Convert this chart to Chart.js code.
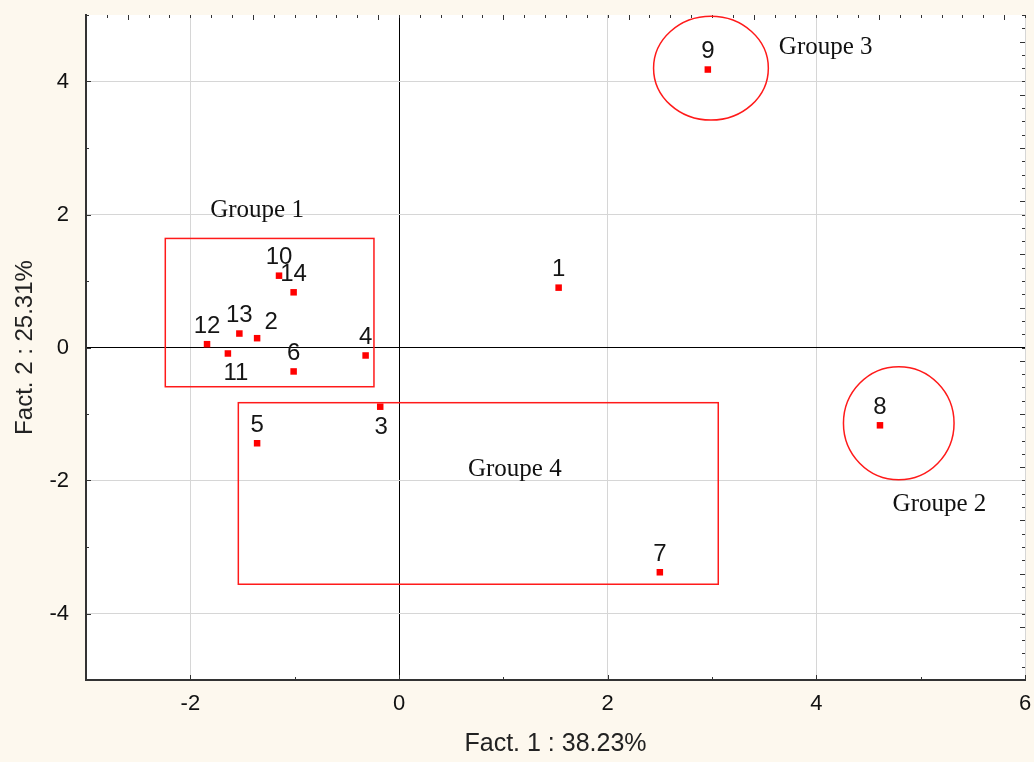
<!DOCTYPE html>
<html>
<head>
<meta charset="utf-8">
<script src="https://cdn.jsdelivr.net/npm/chart.js@4"></script>
<style>
  html, body { margin: 0; padding: 0; background: #fdf8ee; }
  #wrap { width: 1034px; height: 762px; }
</style>
</head>
<body>
<div id="wrap"><canvas id="chart" width="1034" height="762"></canvas></div>
<script>
// Observations (factor scores)
const obsLabels = ["1", "2", "3", "4", "5", "6", "7", "8", "9", "10", "11", "12", "13", "14"];
const fact1 = [1.53, -1.36, -0.18, -0.32, -1.36, -1.01, 2.50, 4.61, 2.96, -1.15, -1.64, -1.84, -1.53, -1.01];
const fact2 = [0.90, 0.14, -0.89, -0.12, -1.44, -0.36, -3.38, -1.17, 4.18, 1.08, -0.09, 0.05, 0.21, 0.83];

// Axis ticks
const xTicks = [-2, 0, 2, 4, 6];
const yTicks = [-4, -2, 0, 2, 4];

// Groups (in factor units)
const groupNames = ["Groupe 1", "Groupe 2", "Groupe 3", "Groupe 4"];
const groupNameX = [-1.36, 5.18, 4.09, 1.11];
const groupNameY = [2.06, -2.36, 4.51, -1.83];
// rectangles: [x1, x2], [y1, y2]
const rectGroups = ["Groupe 1", "Groupe 4"];
const rectX = [[-2.24, -0.24], [-1.54, 3.06]];
const rectY = [[1.64, -0.59], [-0.83, -3.56]];
// ellipses: center and radii
const ellGroups = ["Groupe 3", "Groupe 2"];
const ellCX = [2.99, 4.79];
const ellCY = [4.20, -1.14];
const ellRX = [0.55, 0.53];
const ellRY = [0.78, 0.85];

// where each point label sits relative to its marker
const labelPlace = { "2": [14, -16], "3": [1, 21], "11": [8, 20] };

const RED = "#ff1a1a";

const plotBg = {
  id: "plotBg",
  beforeDraw(chart) {
    const { ctx, chartArea: a } = chart;
    ctx.save();
    ctx.fillStyle = "#ffffff";
    ctx.fillRect(a.left, a.top, a.right - a.left, a.bottom - a.top);
    ctx.restore();
  }
};

const extras = {
  id: "extras",
  afterDatasetsDraw(chart) {
    const { ctx, chartArea: a, scales: { x, y } } = chart;
    ctx.save();

    // inward tick marks
    ctx.strokeStyle = "#333";
    ctx.lineWidth = 1;
    ctx.beginPath();
    for (let v = -3; v <= 6; v += 1) {
      const px = Math.round(x.getPixelForValue(v)) + 0.5;
      const len = v % 2 === 0 ? 5 : 3;
      ctx.moveTo(px, a.bottom); ctx.lineTo(px, a.bottom - len);
    }
    for (let v = -5; v <= 5; v += 1) {
      const py = Math.round(y.getPixelForValue(v)) + 0.5;
      const len = v % 2 === 0 ? 5 : 3;
      ctx.moveTo(a.left, py); ctx.lineTo(a.left + len, py);
    }
    for (let i = 0; i <= 45; i++) {
      const px = Math.round(x.getPixelForValue(-3 + i * 0.2)) + 0.5;
      ctx.moveTo(px, a.top); ctx.lineTo(px, a.top + (i % 6 === 2 ? 5 : 3));
    }
    for (let i = 0; i <= 50; i++) {
      const py = Math.round(y.getPixelForValue(-5 + i * 0.2)) + 0.5;
      ctx.moveTo(a.right, py); ctx.lineTo(a.right - (i % 4 === 0 ? 5 : 3), py);
    }
    ctx.stroke();

    // group outlines
    ctx.strokeStyle = RED;
    ctx.lineWidth = 1.5;
    rectGroups.forEach((g, i) => {
      const x1 = x.getPixelForValue(rectX[i][0]), x2 = x.getPixelForValue(rectX[i][1]);
      const y1 = y.getPixelForValue(rectY[i][0]), y2 = y.getPixelForValue(rectY[i][1]);
      ctx.strokeRect(x1, y1, x2 - x1, y2 - y1);
    });
    ellGroups.forEach((g, i) => {
      const cx = x.getPixelForValue(ellCX[i]), cy = y.getPixelForValue(ellCY[i]);
      const rx = x.getPixelForValue(ellCX[i] + ellRX[i]) - cx;
      const ry = cy - y.getPixelForValue(ellCY[i] + ellRY[i]);
      ctx.beginPath();
      ctx.ellipse(cx, cy, rx, ry, 0, 0, Math.PI * 2);
      ctx.stroke();
    });

    // group names
    ctx.fillStyle = "#111";
    ctx.font = "25px 'Liberation Serif', 'Times New Roman', serif";
    ctx.textAlign = "center";
    ctx.textBaseline = "middle";
    groupNames.forEach((g, i) => {
      ctx.fillText(g, x.getPixelForValue(groupNameX[i]), y.getPixelForValue(groupNameY[i]));
    });

    // point labels
    ctx.font = "24px 'Liberation Sans', Arial, sans-serif";
    ctx.fillStyle = "#151515";
    const meta = chart.getDatasetMeta(0);
    meta.data.forEach((pt, i) => {
      const off = labelPlace[obsLabels[i]] || [0, -18];
      ctx.fillText(obsLabels[i], pt.x + off[0], pt.y + off[1]);
    });
    ctx.restore();
  }
};

const gridColor = c => (c.tick && c.tick.value === 0 ? "#000000" : "#d6d6d6");

new Chart(document.getElementById("chart"), {
  type: "scatter",
  data: {
    datasets: [{
      data: fact1.map((v, i) => ({ x: v, y: fact2[i] })),
      pointStyle: "rect",
      pointRadius: 4.6,
      pointHoverRadius: 4.6,
      borderWidth: 0,
      backgroundColor: "#ff0000"
    }]
  },
  options: {
    responsive: false,
    animation: false,
    events: [],
    layout: { autoPadding: false, padding: { top: 15, right: 9, left: 0, bottom: 0 } },
    plugins: { legend: { display: false }, tooltip: { enabled: false } },
    scales: {
      x: {
        type: "linear",
        min: -3, max: 6,
        afterBuildTicks: s => { s.ticks = xTicks.map(v => ({ value: v })); },
        afterFit: s => { s.height = 82; s.paddingLeft = 0; s.paddingRight = 0; },
        grid: { color: gridColor, lineWidth: 1, drawTicks: false },
        border: { display: true, color: "#333", width: 2 },
        ticks: { padding: 11, color: "#111", font: { family: "'Liberation Sans', Arial, sans-serif", size: 22 } },
        title: {
          display: true, text: "Fact. 1 : 38.23%", color: "#222",
          font: { family: "'Liberation Sans', Arial, sans-serif", size: 25 },
          padding: { top: 0, bottom: 3 }
        }
      },
      y: {
        type: "linear",
        min: -5, max: 5,
        afterBuildTicks: s => { s.ticks = yTicks.map(v => ({ value: v })); },
        afterFit: s => { s.width = 86; s.paddingTop = 0; s.paddingBottom = 0; },
        grid: { color: gridColor, lineWidth: 1, drawTicks: false },
        border: { display: true, color: "#333", width: 2 },
        ticks: { padding: 17, color: "#111", font: { family: "'Liberation Sans', Arial, sans-serif", size: 22 } },
        title: {
          display: true, text: "Fact. 2 : 25.31%", color: "#222",
          font: { family: "'Liberation Sans', Arial, sans-serif", size: 24 },
          padding: { top: 11, bottom: 0 }
        }
      }
    }
  },
  plugins: [plotBg, extras]
});
</script>
</body>
</html>
